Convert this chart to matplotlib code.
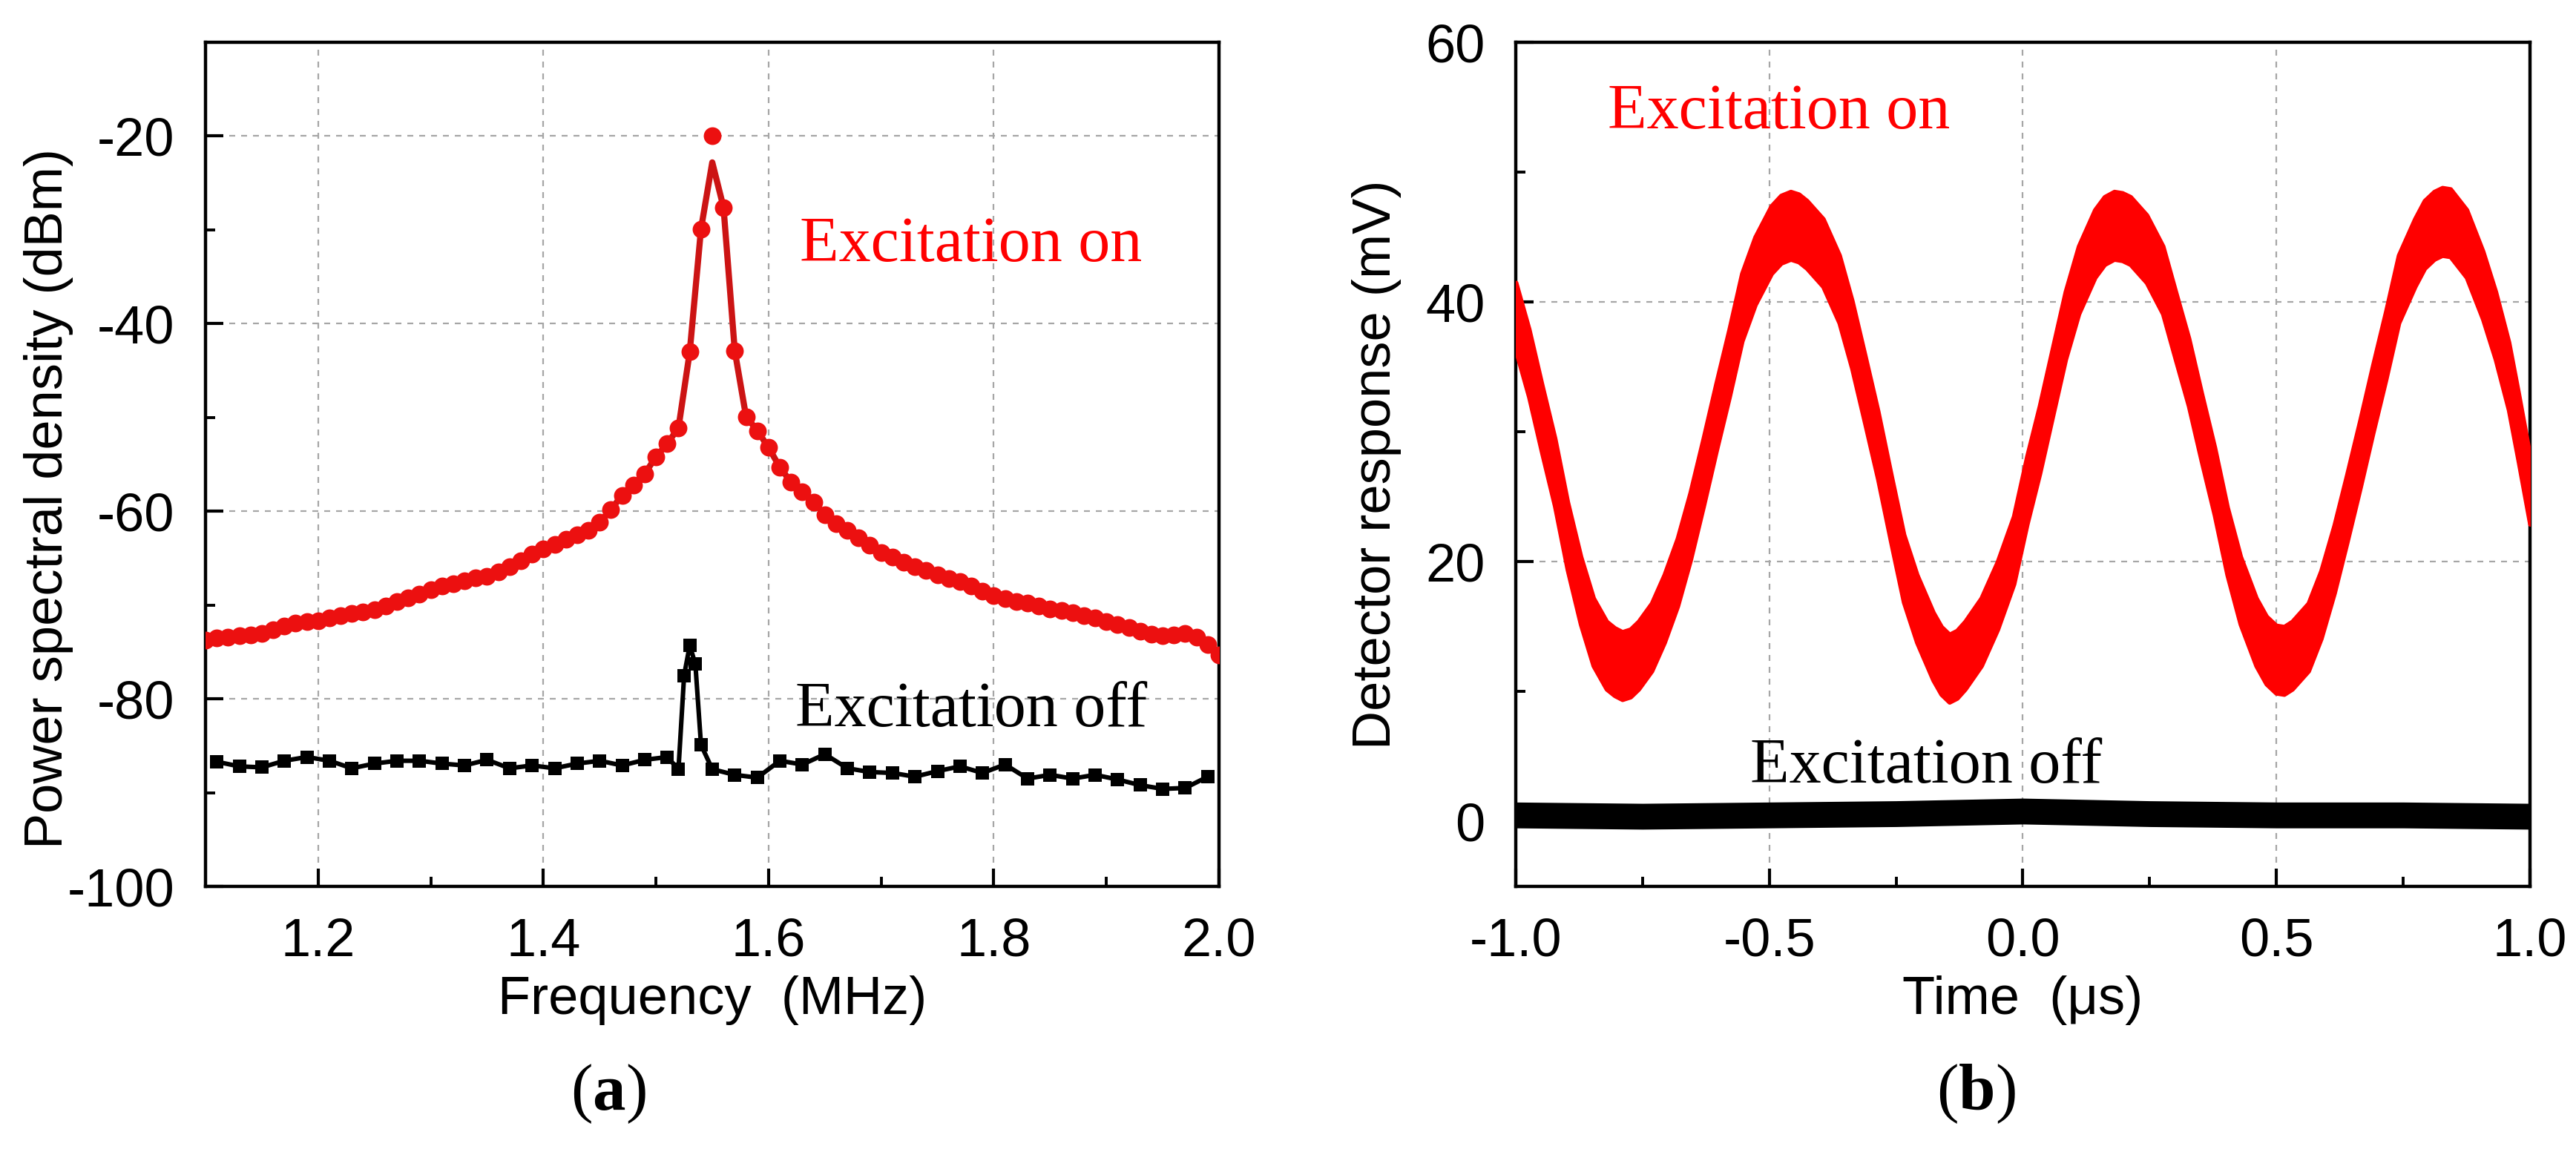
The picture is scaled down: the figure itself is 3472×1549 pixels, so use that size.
"""
Two-panel figure: (a) power spectral density with excitation on/off,
(b) detector response in time domain with excitation on/off.
"""
import numpy as np
import matplotlib
matplotlib.use("Agg")
import matplotlib.pyplot as plt
from matplotlib.ticker import MultipleLocator

# --- data: panel (a), spectrum ---
freq_on = np.round(np.arange(1.10, 2.0001, 0.01), 3)          # MHz
psd_on = [
    -73.7, -73.5, -73.4, -73.3, -73.2, -73.0, -72.6, -72.2, -71.9, -71.8,
    -71.7, -71.4, -71.1, -70.9, -70.7, -70.5, -70.1, -69.6, -69.2, -68.8,
    -68.4, -68.0, -67.7, -67.4, -67.1, -66.9, -66.5, -65.9, -65.3, -64.6,
    -64.0, -63.5, -63.0, -62.5, -62.0, -61.2, -59.8, -58.3, -57.2, -56.0,
    -54.2, -52.8, -51.1, -43.0, -29.9, -20.0, -27.6, -42.9, -49.9, -51.4,
    -53.2, -55.3, -56.9, -57.9, -59.0, -60.4, -61.3, -62.0, -62.8, -63.6,
    -64.4, -64.9, -65.4, -65.9, -66.3, -66.8, -67.2, -67.5, -68.0, -68.5,
    -69.0, -69.3, -69.6, -69.8, -70.1, -70.4, -70.6, -70.8, -71.1, -71.4,
    -71.8, -72.1, -72.4, -72.8, -73.1, -73.3, -73.2, -73.0, -73.4, -74.2,
    -75.3,
]
line_peak_on = -22.8    # the drawn line tops out below the highest marker

freq_off = [
    1.11, 1.13, 1.15, 1.17, 1.19, 1.21, 1.23, 1.25, 1.27, 1.29,
    1.31, 1.33, 1.35, 1.37, 1.39, 1.41, 1.43, 1.45, 1.47, 1.49,
    1.51, 1.52, 1.525, 1.53, 1.535, 1.54, 1.55, 1.57, 1.59, 1.61,
    1.63, 1.65, 1.67, 1.69, 1.71, 1.73, 1.75, 1.77, 1.79, 1.81,
    1.83, 1.85, 1.87, 1.89, 1.91, 1.93, 1.95, 1.97, 1.99,
]
psd_off = [
    -86.7, -87.2, -87.3, -86.6, -86.2, -86.6, -87.4, -86.9, -86.6, -86.6,
    -86.9, -87.1, -86.5, -87.4, -87.1, -87.4, -86.9, -86.6, -87.1, -86.5,
    -86.2, -87.5, -77.5, -74.3, -76.3, -84.9, -87.5, -88.1, -88.4, -86.6,
    -87.0, -85.9, -87.4, -87.8, -87.9, -88.3, -87.7, -87.2, -87.9, -87.0,
    -88.5, -88.1, -88.5, -88.1, -88.6, -89.2, -89.6, -89.5, -88.3,
]

# --- data: panel (b), time trace ---
time_on = [
    -1.000, -0.974, -0.949, -0.923, -0.898, -0.872, -0.847, -0.821, -0.805, -0.790,
    -0.774, -0.758, -0.732, -0.707, -0.681, -0.656, -0.630, -0.605, -0.579, -0.554,
    -0.528, -0.496, -0.477, -0.458, -0.442, -0.426, -0.394, -0.362, -0.337, -0.311,
    -0.286, -0.260, -0.235, -0.209, -0.177, -0.161, -0.145, -0.130, -0.114, -0.082,
    -0.050, -0.018, 0.008, 0.033, 0.059, 0.084, 0.110, 0.142, 0.161, 0.180,
    0.196, 0.212, 0.244, 0.276, 0.301, 0.327, 0.352, 0.378, 0.403, 0.429,
    0.460, 0.480, 0.499, 0.515, 0.531, 0.563, 0.588, 0.614, 0.639, 0.665,
    0.690, 0.716, 0.741, 0.773, 0.792, 0.811, 0.827, 0.843, 0.875, 0.907,
    0.932, 0.958, 0.977, 1.000,
]
resp_on = [
    38.9, 35.3, 31.1, 26.9, 22.0, 17.8, 14.6, 12.8, 12.3, 12.0,
    12.2, 12.8, 14.2, 16.4, 19.2, 22.7, 26.9, 31.1, 35.3, 39.6,
    42.4, 44.8, 45.6, 45.9, 45.7, 45.2, 43.8, 41.0, 37.5, 33.2,
    29.0, 24.1, 19.5, 16.4, 13.5, 12.4, 11.8, 12.1, 12.8, 14.6,
    17.4, 20.9, 25.5, 29.4, 33.9, 38.2, 41.7, 44.5, 45.5, 45.9,
    45.8, 45.5, 44.1, 41.7, 38.2, 34.6, 30.4, 26.2, 21.6, 17.8,
    14.6, 13.2, 12.5, 12.4, 12.8, 14.2, 16.7, 20.2, 24.1, 28.3,
    32.5, 36.7, 41.0, 43.8, 45.2, 45.9, 46.2, 46.1, 44.5, 41.3,
    38.2, 34.3, 30.4, 25.5,
]
noise_on = 2.6      # half-width of the noisy band, mV

time_off = [-1.0, -0.75, -0.5, -0.25, 0.0, 0.25, 0.5, 0.75, 1.0]
resp_off = [0.5, 0.4, 0.5, 0.6, 0.8, 0.6, 0.5, 0.5, 0.4]
noise_off = 0.9

# --- colors ---
C_MARK = "#ec1010"
C_LINE = "#cc1414"
C_TRACE = "#ff0000"
C_GRID = "#a6a6a6"

plt.rcParams["font.family"] = ["Liberation Sans", "DejaVu Sans"]
plt.rcParams["axes.unicode_minus"] = False
plt.rcParams["mathtext.fontset"] = "custom"
plt.rcParams["mathtext.rm"] = "Liberation Serif"
plt.rcParams["mathtext.bf"] = "Liberation Serif:bold"

TICK_FS = 26
LABEL_FS = 26
NOTE_FS = 31
CAP_FS = 32
SERIF = ["Liberation Serif", "DejaVu Serif"]


def style_axes(ax):
    for sp in ax.spines.values():
        sp.set_linewidth(1.6)
    ax.tick_params(which="both", direction="in", top=False, right=False,
                   labelsize=TICK_FS, pad=15)
    ax.tick_params(which="major", length=8.5, width=1.5)
    ax.tick_params(which="minor", length=4.8, width=1.4)
    ax.grid(which="major", color=C_GRID, linestyle=(0, (3.6, 3.6)), linewidth=0.8)
    ax.set_axisbelow(True)


fig = plt.figure(figsize=(17.365, 7.745), dpi=200)
ax1 = fig.add_axes([0.07976, 0.2285, 0.39332, 0.73467])
ax2 = fig.add_axes([0.58825, 0.2285, 0.39361, 0.73467])

# --- panel (a) ---
line_on = list(psd_on)
line_on[int(np.argmax(psd_on))] = line_peak_on
ax1.plot(freq_on, line_on, color=C_LINE, lw=3.0, zorder=3)
ax1.plot(freq_on, psd_on, "o", color=C_MARK, ms=8.6, mew=0, zorder=4)
ax1.plot(freq_off, psd_off, "-s", color="black", lw=2.2, ms=6.8, mew=0, zorder=4)

ax1.set_xlim(1.1, 2.0)
ax1.set_ylim(-100, -10)
ax1.xaxis.set_major_locator(MultipleLocator(0.2))
ax1.xaxis.set_minor_locator(MultipleLocator(0.1))
ax1.yaxis.set_major_locator(MultipleLocator(20))
ax1.yaxis.set_minor_locator(MultipleLocator(10))
ax1.set_xticks([1.2, 1.4, 1.6, 1.8, 2.0])
ax1.set_xticklabels(["1.2", "1.4", "1.6", "1.8", "2.0"])
ax1.set_yticks([-100, -80, -60, -40, -20])
style_axes(ax1)
ax1.set_xlabel("Frequency  (MHz)", fontsize=LABEL_FS, labelpad=4)
ax1.set_ylabel("Power spectral density (dBm)", fontsize=LABEL_FS)
ax1.yaxis.set_label_coords(-0.130, 0.46)

ax1.text(1.628, -33.3, "Excitation on", color=C_TRACE, fontsize=NOTE_FS,
         family=SERIF, ha="left", va="baseline", zorder=5)
ax1.text(1.624, -82.9, "Excitation off", color="black", fontsize=NOTE_FS,
         family=SERIF, ha="left", va="baseline", zorder=5)

# --- panel (b) ---
t_on = np.array(time_on)
v_on = np.array(resp_on)
ax2.fill_between(t_on, v_on - noise_on, v_on + noise_on, color=C_TRACE,
                 lw=2.2, edgecolor=C_TRACE, zorder=3)
t_off = np.array(time_off)
v_off = np.array(resp_off)
ax2.fill_between(t_off, v_off - noise_off, v_off + noise_off, color="black",
                 lw=1.2, edgecolor="black", zorder=3)

ax2.set_xlim(-1.0, 1.0)
ax2.set_ylim(-5, 60)
ax2.xaxis.set_major_locator(MultipleLocator(0.5))
ax2.xaxis.set_minor_locator(MultipleLocator(0.25))
ax2.yaxis.set_major_locator(MultipleLocator(20))
ax2.yaxis.set_minor_locator(MultipleLocator(10))
ax2.set_xticks([-1.0, -0.5, 0.0, 0.5, 1.0])
ax2.set_xticklabels(["-1.0", "-0.5", "0.0", "0.5", "1.0"])
ax2.set_yticks([0, 20, 40, 60])
style_axes(ax2)
ax2.set_xlabel("Time  (\u03bcs)", fontsize=LABEL_FS, labelpad=4)
ax2.set_ylabel("Detector response (mV)", fontsize=LABEL_FS)
ax2.yaxis.set_label_coords(-0.113, 0.5)

ax2.text(-0.819, 53.4, "Excitation on", color=C_TRACE, fontsize=NOTE_FS,
         family=SERIF, ha="left", va="baseline", zorder=5)
ax2.text(-0.538, 3.0, "Excitation off", color="black", fontsize=NOTE_FS,
         family=SERIF, ha="left", va="baseline", zorder=5)

# --- captions ---
fig.text(0.236, 0.048, r"($\mathbf{a}$)", fontsize=CAP_FS, family=SERIF,
         ha="center", va="center")
fig.text(0.767, 0.048, r"($\mathbf{b}$)", fontsize=CAP_FS, family=SERIF,
         ha="center", va="center")

fig.savefig("out.png", dpi=200, facecolor="white")
plt.close(fig)
